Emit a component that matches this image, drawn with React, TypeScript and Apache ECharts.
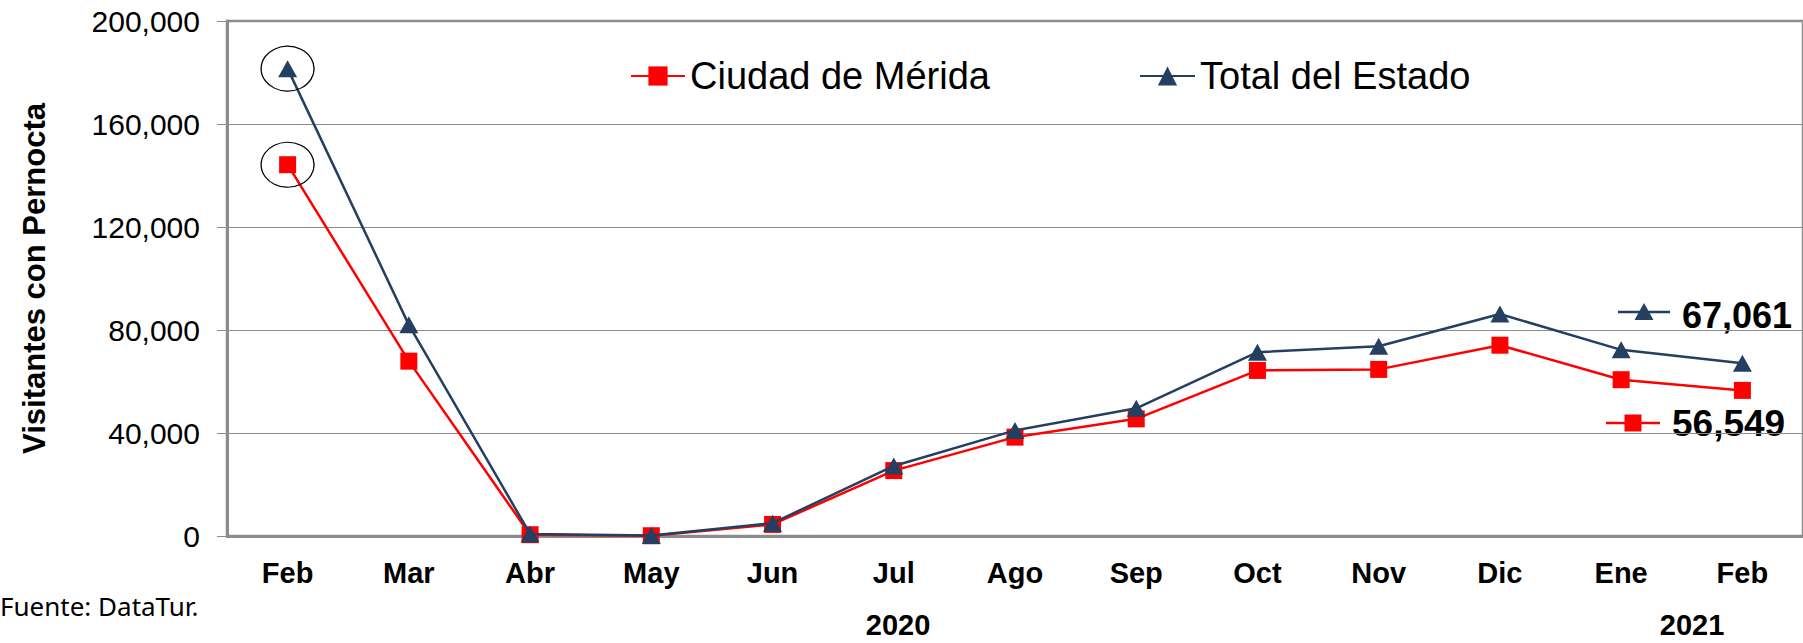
import React, { useEffect, useRef } from "react";
import * as echarts from "echarts";

const categories = ["Feb", "Mar", "Abr", "May", "Jun", "Jul", "Ago", "Sep", "Oct", "Nov", "Dic", "Ene", "Feb"];
const merida = [144200, 67900, 500, 100, 4500, 25400, 38400, 45500, 64300, 64700, 74100, 60700, 56549];
const totalEstado = [181500, 82000, 800, 200, 5000, 27200, 41000, 49600, 71400, 73700, 86200, 72300, 67061];
const yTicks = { min: 0, max: 200000, interval: 40000 };
const years = [{ text: "2020", x: 898 }, { text: "2021", x: 1692 }];
const lastMerida = "56,549";
const lastTotal = "67,061";

const RED = "#FF0000";
const NAVY = "#243F60";
const FONT = "Liberation Sans";

export default function App() {
  const ref = useRef<HTMLDivElement>(null);
  useEffect(() => {
    if (!ref.current) return;
    const chart = echarts.init(ref.current, null, { renderer: "svg" });
    const circleMark = {
      symbol: "circle",
      symbolSize: [53, 45],
      itemStyle: { color: "rgba(0,0,0,0)", borderColor: "#000", borderWidth: 1.2 },
      label: { show: false },
      data: [{ type: "max" }],
    };
    const legendText = { fontFamily: FONT, fontSize: 38, color: "#000" };
    chart.setOption({
      animation: false,
      backgroundColor: "#fff",
      grid: { left: 227, top: 21, width: 1586, height: 515, show: true, borderColor: "#8c8c8c", borderWidth: 2.5 },
      legend: [
        {
          data: ["Ciudad de Mérida"],
          left: 630,
          top: 57,
          padding: 0,
          itemWidth: 54,
          itemHeight: 24,
          textStyle: legendText,
        },
        {
          data: ["Total del Estado"],
          left: 1139,
          top: 57,
          padding: 0,
          itemWidth: 55,
          itemHeight: 24,
          textStyle: legendText,
        },
      ],
      xAxis: {
        type: "category",
        data: categories,
        boundaryGap: true,
        axisTick: { show: false },
        axisLine: { show: true, lineStyle: { color: "#8c8c8c", width: 3 } },
        axisLabel: { fontFamily: FONT, fontSize: 29, fontWeight: "bold", color: "#000", margin: 22, interval: 0 },
        splitLine: { show: false },
      },
      yAxis: {
        type: "value",
        min: yTicks.min,
        max: yTicks.max,
        interval: yTicks.interval,
        name: "Visitantes con Pernocta",
        nameLocation: "middle",
        nameRotate: 90,
        nameGap: 177,
        nameTextStyle: { fontFamily: FONT, fontSize: 31, fontWeight: "bold", color: "#000" },
        axisLine: { show: true, lineStyle: { color: "#8c8c8c", width: 3 } },
        axisTick: { show: true, inside: false, length: 10, lineStyle: { color: "#8c8c8c", width: 1 } },
        axisLabel: {
          fontFamily: FONT,
          fontSize: 30,
          color: "#000",
          margin: 27,
          formatter: (v: number) => v.toLocaleString("en-US"),
        },
        splitLine: { show: true, lineStyle: { color: "#8c8c8c", width: 1 } },
      },
      series: [
        {
          name: "Ciudad de Mérida",
          type: "line",
          data: merida,
          symbol: "rect",
          symbolSize: 17,
          showAllSymbol: true,
          lineStyle: { color: RED, width: 2.5 },
          itemStyle: { color: RED },
          markPoint: circleMark,
          z: 2,
        },
        {
          name: "Total del Estado",
          type: "line",
          data: totalEstado,
          symbol: "triangle",
          symbolSize: [19, 17],
          showAllSymbol: true,
          lineStyle: { color: NAVY, width: 2.5 },
          itemStyle: { color: NAVY },
          markPoint: circleMark,
          z: 3,
        },
      ],
      graphic: [
        ...years.map((y) => ({
          type: "text",
          x: y.x,
          y: 625,
          style: {
            text: y.text,
            fontFamily: FONT,
            fontSize: 29,
            fontWeight: "bold",
            fill: "#000",
            textAlign: "center",
            textVerticalAlign: "middle",
          },
        })),
        {
          type: "text",
          x: 0,
          y: 606,
          style: {
            text: "Fuente: DataTur.",
            fontFamily: "Noto Sans",
            fontSize: 26,
            fill: "#000",
            textAlign: "left",
            textVerticalAlign: "middle",
          },
        },
        { type: "line", shape: { x1: 1618, y1: 312, x2: 1670, y2: 312 }, style: { stroke: NAVY, lineWidth: 2.5 } },
        {
          type: "polygon",
          shape: { points: [[1644, 303], [1653.5, 320], [1634.5, 320]] },
          style: { fill: NAVY },
        },
        {
          type: "text",
          x: 1682,
          y: 315,
          style: { text: lastTotal, fontFamily: FONT, fontSize: 36, fontWeight: "bold", fill: "#000", textAlign: "left", textVerticalAlign: "middle" },
        },
        { type: "line", shape: { x1: 1606, y1: 423, x2: 1660, y2: 423 }, style: { stroke: RED, lineWidth: 2.5 } },
        { type: "rect", shape: { x: 1624.5, y: 414.5, width: 17, height: 17 }, style: { fill: RED } },
        {
          type: "text",
          x: 1672,
          y: 423,
          style: { text: lastMerida, fontFamily: FONT, fontSize: 37, fontWeight: "bold", fill: "#000", textAlign: "left", textVerticalAlign: "middle" },
        },
      ],
    });
    return () => chart.dispose();
  }, []);
  return <div ref={ref} style={{ position: "fixed", left: 0, top: 0, width: 1803, height: 643 }} />;
}
